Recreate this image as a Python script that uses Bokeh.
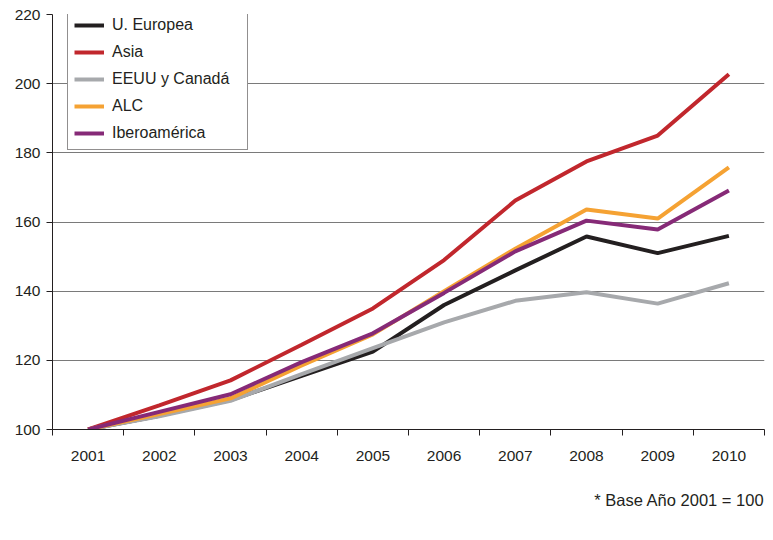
from bokeh.plotting import figure
from bokeh.models import (Range1d, FixedTicker, Legend, LegendItem, Title)
from bokeh.embed import file_html
from bokeh.resources import INLINE

years = [2001, 2002, 2003, 2004, 2005, 2006, 2007, 2008, 2009, 2010]
ue = [100, 104.0, 108.5, 115.5, 122.5, 136.0, 146.0, 155.8, 151.0, 156.0]
asia = [100, 107.0, 114.2, 124.5, 135.0, 149.0, 166.2, 177.5, 185.0, 202.7]
eeuu = [100, 103.8, 108.3, 116.0, 123.5, 131.0, 137.2, 139.7, 136.4, 142.3]
alc = [100, 104.5, 109.0, 118.5, 127.5, 140.0, 152.3, 163.6, 161.0, 175.8]
ibero = [100, 105.1, 110.2, 119.5, 127.8, 139.5, 151.5, 160.4, 157.8, 169.1]
y_ticks = [100, 120, 140, 160, 180, 200, 220]
footnote = "* Base Año 2001 = 100"

FONT = "Liberation Sans"

p = figure(width=773, height=540, output_backend="svg", toolbar_location=None,
           x_range=Range1d(2000.5, 2010.5), y_range=Range1d(100, 220),
           min_border_left=52, min_border_right=9, min_border_top=14,
           min_border_bottom=111)
p.outline_line_color = None
p.background_fill_color = "white"

# axes
xa = p.xaxis[0]
xa.ticker = FixedTicker(ticks=years, minor_ticks=[y - 0.5 for y in years] + [2010.5])
xa.major_tick_out = 0
xa.major_tick_in = 0
xa.minor_tick_out = 6
xa.minor_tick_in = 0
xa.minor_tick_line_color = "#231f20"
xa.axis_line_color = "#231f20"
xa.major_label_standoff = 15
xa.major_label_text_font = FONT
xa.major_label_text_font_size = "15.5px"
xa.major_label_text_color = "#231f20"

ya = p.yaxis[0]
ya.ticker = FixedTicker(ticks=y_ticks, minor_ticks=[])
ya.major_tick_out = 6
ya.major_tick_in = 0
ya.major_tick_line_color = "#231f20"
ya.axis_line_color = "#231f20"
ya.major_label_standoff = 6
ya.major_label_text_font = FONT
ya.major_label_text_font_size = "15.5px"
ya.major_label_text_color = "#231f20"

p.xgrid.grid_line_color = None
p.ygrid.grid_line_color = "#7a7a7a"
p.ygrid.grid_line_width = 1

W = 4
r_ue = p.line(years, ue, line_color="#231f20", line_width=W)
r_eeuu = p.line(years, eeuu, line_color="#a7a9ac", line_width=W)
r_asia = p.line(years, asia, line_color="#c1272d", line_width=W)
r_alc = p.line(years, alc, line_color="#f5a233", line_width=W)
r_ibero = p.line(years, ibero, line_color="#862a77", line_width=W)

legend = Legend(items=[
    LegendItem(label="U. Europea", renderers=[r_ue]),
    LegendItem(label="Asia", renderers=[r_asia]),
    LegendItem(label="EEUU y Canadá", renderers=[r_eeuu]),
    LegendItem(label="ALC", renderers=[r_alc]),
    LegendItem(label="Iberoamérica", renderers=[r_ibero]),
], location=(15, 279))
legend.padding = 6
legend.spacing = 7
legend.glyph_height = 20
legend.label_height = 20
legend.glyph_width = 30
legend.label_standoff = 8
legend.label_width = 129
legend.margin = 0
legend.border_line_color = "#231f20"
legend.border_line_width = 1
legend.background_fill_color = "white"
legend.background_fill_alpha = 1
legend.label_text_font = FONT
legend.label_text_font_size = "16px"
legend.label_text_color = "#231f20"
p.add_layout(legend, "center")

note = Title(text=footnote, align="right", standoff=50, text_font=FONT,
             text_font_size="16.5px", text_font_style="normal",
             text_color="#231f20")
p.add_layout(note, "below")

open("out.html", "w").write(file_html(p, INLINE))
